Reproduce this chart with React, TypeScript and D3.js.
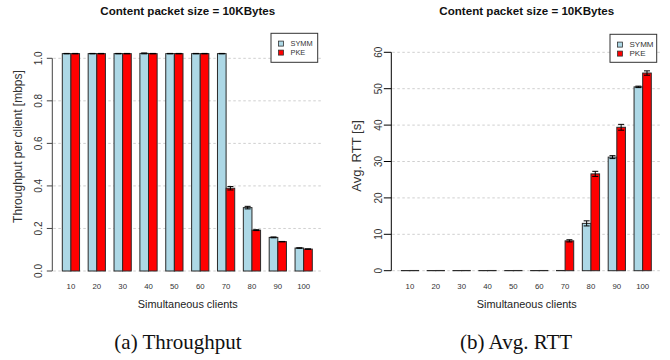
import React from 'react';
import * as d3 from 'd3';

// simultaneous clients (x categories)
const clients = ['10', '20', '30', '40', '50', '60', '70', '80', '90', '100'];
const seriesNames = ['SYMM', 'PKE'];

// throughput per client [mbps]
const tputSymm = [1.022, 1.022, 1.022, 1.023, 1.022, 1.022, 1.022, 0.298, 0.158, 0.108];
const tputPke = [1.022, 1.022, 1.022, 1.022, 1.022, 1.022, 0.389, 0.192, 0.138, 0.103];
const tputSymmErr = [0.001, 0.001, 0.001, 0.002, 0.001, 0.001, 0.001, 0.006, 0.002, 0.001];
const tputPkeErr = [0.001, 0.001, 0.001, 0.001, 0.001, 0.001, 0.008, 0.002, 0.001, 0.001];
const tputTicks = [0, 0.2, 0.4, 0.6, 0.8, 1.0];

// average round trip time [s]
const rttSymm = [0.05, 0.05, 0.05, 0.05, 0.05, 0.05, 0.06, 13.0, 31.2, 50.5];
const rttPke = [0.06, 0.06, 0.06, 0.06, 0.06, 0.06, 8.2, 26.6, 39.4, 54.3];
const rttSymmErr = [0, 0, 0, 0, 0, 0, 0, 0.7, 0.4, 0.2];
const rttPkeErr = [0, 0, 0, 0, 0, 0, 0.3, 0.7, 0.8, 0.6];
const rttTicks = [0, 10, 20, 30, 40, 50, 60];

const colors = ['#add8e6', '#ff0000'];
const sans = '"Liberation Sans", Arial, Helvetica, sans-serif';
const serif = '"Liberation Serif", "Times New Roman", serif';

type PanelProps = {
  left: number;
  right: number;
  yTop: number;
  yBottom: number;
  yMax: number;
  ticks: number[];
  fmt: (v: number) => string;
  values: number[][];
  errors: number[][];
  ylabel: string;
  ylabelX: number;
  ylabelY: number;
  ylabelSize: number;
  tickLen: number;
  labelGap: number;
  axisColor: string;
  legend: { x: number; y: number; w: number; h: number; font: number };
  caption: string;
  captionX: number;
};

function Panel(p: PanelProps) {
  const x0 = d3
    .scaleBand<string>()
    .domain(clients)
    .range([p.left, p.right])
    .paddingInner(1 / 3)
    .paddingOuter(0.3867);
  const x1 = d3.scaleBand<string>().domain(seriesNames).range([0, x0.bandwidth()]);
  const y = d3.scaleLinear().domain([0, p.yMax]).range([p.yBottom, p.yTop]);
  const cx = (p.left + p.right) / 2 + 0.5;
  const axisX = p.left;

  return (
    <g>
      <text x={cx} y={15} textAnchor="middle" fontFamily={sans} fontWeight="bold" fontSize={11.6} fill="#111">
        Content packet size = 10KBytes
      </text>

      {/* grid */}
      {p.ticks.map(t => (
        <line key={'g' + t} x1={axisX + 1} x2={p.right} y1={y(t)} y2={y(t)}
          stroke="#cfcfcf" strokeWidth={1} strokeDasharray="2.5,2.5" />
      ))}

      {/* bars */}
      {clients.map((c, i) => (
        <g key={c} transform={`translate(${x0(c)},0)`}>
          {seriesNames.map((s, k) => {
            const v = p.values[k][i];
            const e = p.errors[k][i];
            const bx = x1(s)!;
            const bw = x1.bandwidth();
            const mid = bx + bw / 2;
            return (
              <g key={s}>
                <rect x={bx} width={bw} y={y(v)} height={Math.max(0, y(0) - y(v))}
                  fill={colors[k]} stroke="#2a2a2a" strokeWidth={1} />
                {e > 0 && (
                  <g stroke="#000" strokeWidth={1}>
                    <line x1={mid} x2={mid} y1={y(v - e)} y2={y(v + e)} />
                    <line x1={mid - 3} x2={mid + 3} y1={y(v + e)} y2={y(v + e)} />
                    <line x1={mid - 3} x2={mid + 3} y1={y(v - e)} y2={y(v - e)} />
                  </g>
                )}
              </g>
            );
          })}
        </g>
      ))}

      {/* y axis */}
      <line x1={axisX} x2={axisX} y1={y(0)} y2={y(p.yMax)} stroke={p.axisColor} strokeWidth={1} />
      {p.ticks.map(t => (
        <g key={'t' + t}>
          <line x1={axisX - p.tickLen} x2={axisX} y1={y(t)} y2={y(t)} stroke={p.axisColor} strokeWidth={1} />
          <text transform={`translate(${axisX - p.tickLen - p.labelGap},${y(t)}) rotate(-90)`} textAnchor="middle"
            fontFamily={sans} fontSize={10} fill="#333">
            {p.fmt(t)}
          </text>
        </g>
      ))}
      <text transform={`translate(${p.ylabelX},${p.ylabelY}) rotate(-90)`} textAnchor="middle"
        fontFamily={sans} fontSize={p.ylabelSize} fill="#333">
        {p.ylabel}
      </text>

      {/* x labels */}
      {clients.map(c => (
        <text key={'x' + c} x={x0(c)! + x0.bandwidth() / 2} y={288.5} textAnchor="middle"
          fontFamily={sans} fontSize={7.8} fill="#333">
          {c}
        </text>
      ))}
      <text x={cx} y={307.5} textAnchor="middle" fontFamily={sans} fontSize={10.9} fill="#222">
        Simultaneous clients
      </text>

      {/* legend */}
      <rect x={p.legend.x} y={p.legend.y} width={p.legend.w} height={p.legend.h} fill="#fff" stroke="#333" strokeWidth={1} />
      {seriesNames.map((s, k) => {
        const ry = p.legend.y + 10.4 + k * 9;
        return (
          <g key={'l' + s}>
            <rect x={p.legend.x + 7.5} y={ry - 2.6} width={5} height={5} fill={colors[k]} stroke="#333" strokeWidth={0.8} />
            <text x={p.legend.x + 19.5} y={ry + 2.7} fontFamily={sans} fontSize={p.legend.font} fill="#333">
              {s}
            </text>
          </g>
        );
      })}

      <text x={p.captionX} y={349} textAnchor="middle" fontFamily={serif} fontSize={21} fill="#111">
        {p.caption}
      </text>
    </g>
  );
}

export default function App() {
  return (
    <svg width={670} height={360} style={{ position: 'absolute', left: 0, top: 0, background: '#fff' }}>
      <rect width={670} height={360} fill="#fff" />
      <Panel
        left={52.3}
        right={322.3}
        yTop={58.3}
        yBottom={271}
        yMax={1}
        ticks={tputTicks}
        fmt={d3.format('.1f')}
        values={[tputSymm, tputPke]}
        errors={[tputSymmErr, tputPkeErr]}
        ylabel="Throughput per client [mbps]"
        ylabelX={21.5}
        ylabelY={146.5}
        ylabelSize={12}
        tickLen={5.5}
        labelGap={4.5}
        axisColor="#444"
        legend={{ x: 271, y: 33.3, w: 46.7, h: 29, font: 7.4 }}
        caption="(a) Throughput"
        captionX={178}
      />
      <Panel
        left={391.3}
        right={661.3}
        yTop={52.3}
        yBottom={270.7}
        yMax={60}
        ticks={rttTicks}
        fmt={d3.format('d')}
        values={[rttSymm, rttPke]}
        errors={[rttSymmErr, rttPkeErr]}
        ylabel="Avg. RTT [s]"
        ylabelX={360.5}
        ylabelY={156}
        ylabelSize={13}
        tickLen={7.5}
        labelGap={1.5}
        axisColor="#000"
        legend={{ x: 610, y: 34.3, w: 46.7, h: 28, font: 8 }}
        caption="(b) Avg. RTT"
        captionX={516}
      />
    </svg>
  );
}
